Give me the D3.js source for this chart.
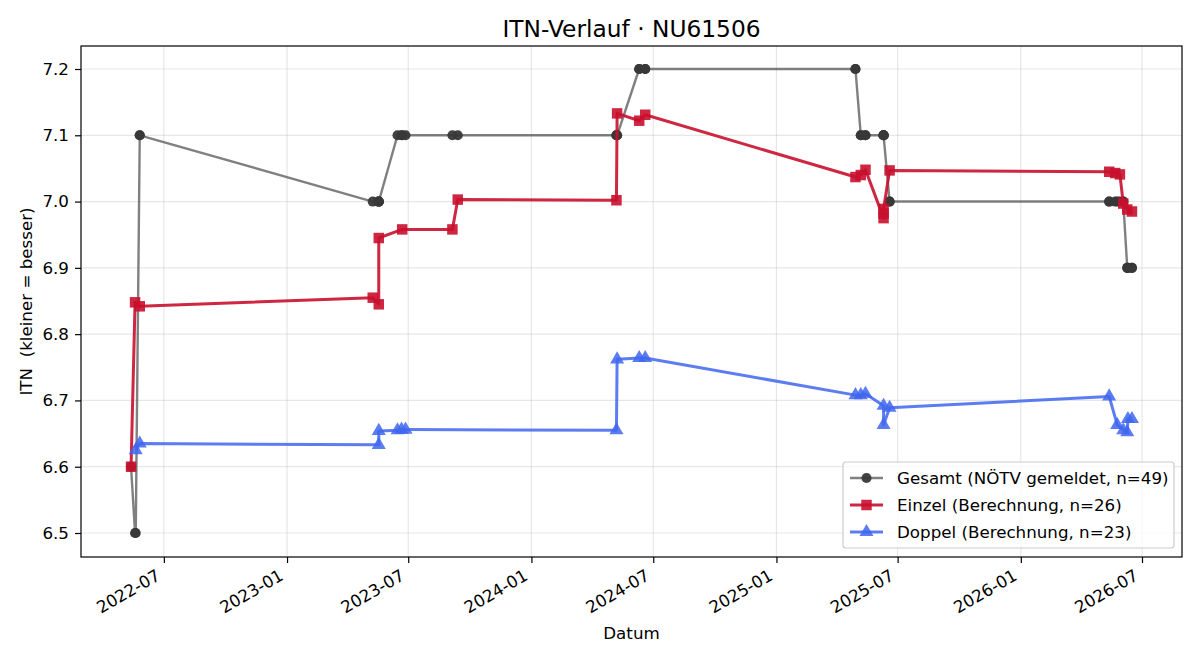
<!DOCTYPE html>
<html><head><meta charset="utf-8">
<script src="https://cdn.jsdelivr.net/npm/d3@7"></script>
<style>
body{margin:0;background:#fff;}
text{font-family:"DejaVu Sans",sans-serif;}
</style></head>
<body><svg id="c" width="1200" height="660"></svg>
<script>
const title = "ITN-Verlauf · NU61506";
const xLabel = "Datum";
const yLabel = "ITN\u00a0\u00a0(kleiner = besser)";
const yTicks = [6.5, 6.6, 6.7, 6.8, 6.9, 7.0, 7.1, 7.2];
const xTicks = ["2022-07-01","2023-01-01","2023-07-01","2024-01-01","2024-07-01","2025-01-01","2025-07-01","2026-01-01","2026-07-01"];

const gesamtDates = ["2022-05-13","2022-05-19","2022-05-20","2022-05-26","2022-05-26",
 "2023-05-09","2023-05-18","2023-05-18","2023-05-18","2023-05-18","2023-06-15","2023-06-21","2023-06-22","2023-06-27","2023-09-05","2023-09-13",
 "2024-05-07","2024-05-07","2024-05-08","2024-05-08","2024-06-10","2024-06-10","2024-06-19","2024-06-19",
 "2025-04-29","2025-04-29","2025-05-07","2025-05-07","2025-05-14","2025-05-14","2025-06-10","2025-06-10","2025-06-10","2025-06-10","2025-06-10","2025-06-19","2025-06-19",
 "2026-05-13","2026-05-13","2026-05-22","2026-05-25","2026-05-29","2026-06-03","2026-06-03","2026-06-09","2026-06-09","2026-06-10","2026-06-16","2026-06-16"];
const gesamtValues = [6.6,6.5,6.5,7.1,7.1,
 7.0,7.0,7.0,7.0,7.0,7.1,7.1,7.1,7.1,7.1,7.1,
 7.1,7.1,7.1,7.1,7.2,7.2,7.2,7.2,
 7.2,7.2,7.1,7.1,7.1,7.1,7.1,7.1,7.1,7.1,7.1,7.0,7.0,
 7.0,7.0,7.0,7.0,7.0,7.0,7.0,6.9,6.9,6.9,6.9,6.9];

const einzelDates = ["2022-05-13","2022-05-19","2022-05-26",
 "2023-05-09","2023-05-18","2023-05-18","2023-06-22","2023-09-05","2023-09-13",
 "2024-05-07","2024-05-08","2024-06-10","2024-06-19",
 "2025-04-29","2025-05-07","2025-05-14","2025-06-10","2025-06-10","2025-06-10","2025-06-19",
 "2026-05-13","2026-05-22","2026-05-29","2026-06-03","2026-06-09","2026-06-16"];
const einzelValues = [6.600,6.848,6.842,
 6.855,6.845,6.945,6.958,6.958,7.003,
 7.002,7.133,7.122,7.131,
 7.037,7.040,7.048,6.975,6.982,6.989,7.047,
 7.045,7.043,7.041,6.997,6.988,6.985];

const doppelDates = ["2022-05-20","2022-05-26",
 "2023-05-18","2023-05-18","2023-06-15","2023-06-21","2023-06-27",
 "2024-05-07","2024-05-08","2024-06-10","2024-06-19",
 "2025-04-29","2025-05-07","2025-05-14","2025-06-10","2025-06-10","2025-06-19",
 "2026-05-13","2026-05-25","2026-06-03","2026-06-09","2026-06-10","2026-06-16"];
const doppelValues = [6.625,6.635,
 6.633,6.654,6.655,6.656,6.656,
 6.655,6.762,6.764,6.764,
 6.708,6.708,6.710,6.692,6.663,6.689,
 6.706,6.663,6.655,6.652,6.672,6.672];

const legendLabels = ["Gesamt (NÖTV gemeldet, n=49)","Einzel (Berechnung, n=26)","Doppel (Berechnung, n=23)"];

const parse = d3.utcParse("%Y-%m-%d");
const L = 81, R = 1182, T = 46, B = 557;
const svg = d3.select("#c");

const allDates = gesamtDates.map(parse);
const [d0, d1] = d3.extent(allDates);
const span = d1 - d0;
const x = d3.scaleUtc().domain([new Date(+d0 - span*0.05), new Date(+d1 + span*0.05)]).range([L, R]);
const y = d3.scaleLinear().domain([6.4638, 7.2347]).range([B, T]);

// grid
const g = svg.append("g");
g.selectAll(".gx").data(xTicks.map(parse)).join("line")
  .attr("x1", d=>x(d)).attr("x2", d=>x(d)).attr("y1", T).attr("y2", B)
  .attr("stroke", "#b0b0b0").attr("stroke-opacity", 0.3).attr("stroke-width", 1.2);
g.selectAll(".gy").data(yTicks).join("line")
  .attr("x1", L).attr("x2", R).attr("y1", d=>y(d)).attr("y2", d=>y(d))
  .attr("stroke", "#b0b0b0").attr("stroke-opacity", 0.3).attr("stroke-width", 1.2);

// axes
const FS = "16.7px";
const xAxis = d3.axisBottom(x).tickValues(xTicks.map(parse)).tickFormat(d3.utcFormat("%Y-%m")).tickSize(6).tickPadding(4);
const ax = svg.append("g").attr("transform", `translate(0,${B})`).call(xAxis);
ax.select(".domain").remove();
ax.selectAll("line").attr("stroke", "#000").attr("stroke-width", 1.2);
ax.selectAll("text").attr("font-size", FS).attr("fill", "#000")
  .attr("text-anchor", "end").attr("dy", null).attr("y", null)
  .attr("transform", "translate(-3,22) rotate(-30)");
const yAxis = d3.axisLeft(y).tickValues(yTicks).tickFormat(d3.format(".1f")).tickSize(6).tickPadding(6);
const ay = svg.append("g").attr("transform", `translate(${L},0)`).call(yAxis);
ay.select(".domain").remove();
ay.selectAll("line").attr("stroke", "#000").attr("stroke-width", 1.2);
ay.selectAll("text").attr("font-size", FS).attr("fill", "#000");

svg.append("rect").attr("x", L).attr("y", T).attr("width", R-L).attr("height", B-T)
  .attr("fill", "none").attr("stroke", "#000").attr("stroke-width", 1.2);

// series
const styles = [
  {c:"#555555", lw:2.4, op:0.75, t:d3.symbolCircle, s:80, f:"#383838", fo:0.95},
  {c:"#c8102e", lw:3, op:0.9, t:d3.symbolSquare, s:110, f:"#c8102e", fo:0.9},
  {c:"#3f66ee", lw:3, op:0.85, t:d3.symbolTriangle, s:85, f:"#3f66ee", fo:0.85}];
function series(dates, vals, s){
  const pts = dates.map((d,i)=>[x(parse(d)), y(vals[i])]);
  const sg = svg.append("g");
  sg.append("path").attr("d", d3.line()(pts)).attr("fill","none")
    .attr("stroke", s.c).attr("stroke-width", s.lw).attr("stroke-opacity", s.op).attr("stroke-linejoin","round");
  sg.selectAll("path.m").data(pts).join("path").attr("class","m")
    .attr("d", d3.symbol().type(s.t).size(s.s)())
    .attr("transform", p=>`translate(${p[0]},${p[1]})`)
    .attr("fill", s.f).attr("fill-opacity", s.fo);
}
series(gesamtDates, gesamtValues, styles[0]);
series(einzelDates, einzelValues, styles[1]);
series(doppelDates, doppelValues, styles[2]);

// title & labels
svg.append("text").attr("x", (L+R)/2).attr("y", 36.5).attr("text-anchor","middle")
  .attr("font-size","23.3px").text(title);
svg.append("text").attr("x", (L+R)/2).attr("y", 639).attr("text-anchor","middle")
  .attr("font-size",FS).text(xLabel);
svg.append("text").attr("transform", `translate(32,${(T+B)/2}) rotate(-90)`).attr("text-anchor","middle")
  .attr("font-size",FS).text(yLabel);

// legend
const lg = svg.append("g");
lg.append("rect").attr("x", 843).attr("y", 462).attr("width", 331).attr("height", 86).attr("rx", 3)
  .attr("fill","#fff").attr("fill-opacity",0.8).attr("stroke","#cccccc").attr("stroke-width",1.2);
legendLabels.forEach((lab,i)=>{
  const yy = 478 + i*27;
  const s = styles[i];
  lg.append("line").attr("x1",850).attr("x2",883).attr("y1",yy).attr("y2",yy)
    .attr("stroke", s.c).attr("stroke-width", s.lw).attr("stroke-opacity", s.op);
  lg.append("path").attr("d", d3.symbol().type(s.t).size(s.s)()).attr("transform",`translate(866.5,${yy})`)
    .attr("fill", s.f).attr("fill-opacity", s.fo);
  lg.append("text").attr("x", 897).attr("y", yy+6).attr("font-size",FS).text(lab);
});
</script></body></html>
